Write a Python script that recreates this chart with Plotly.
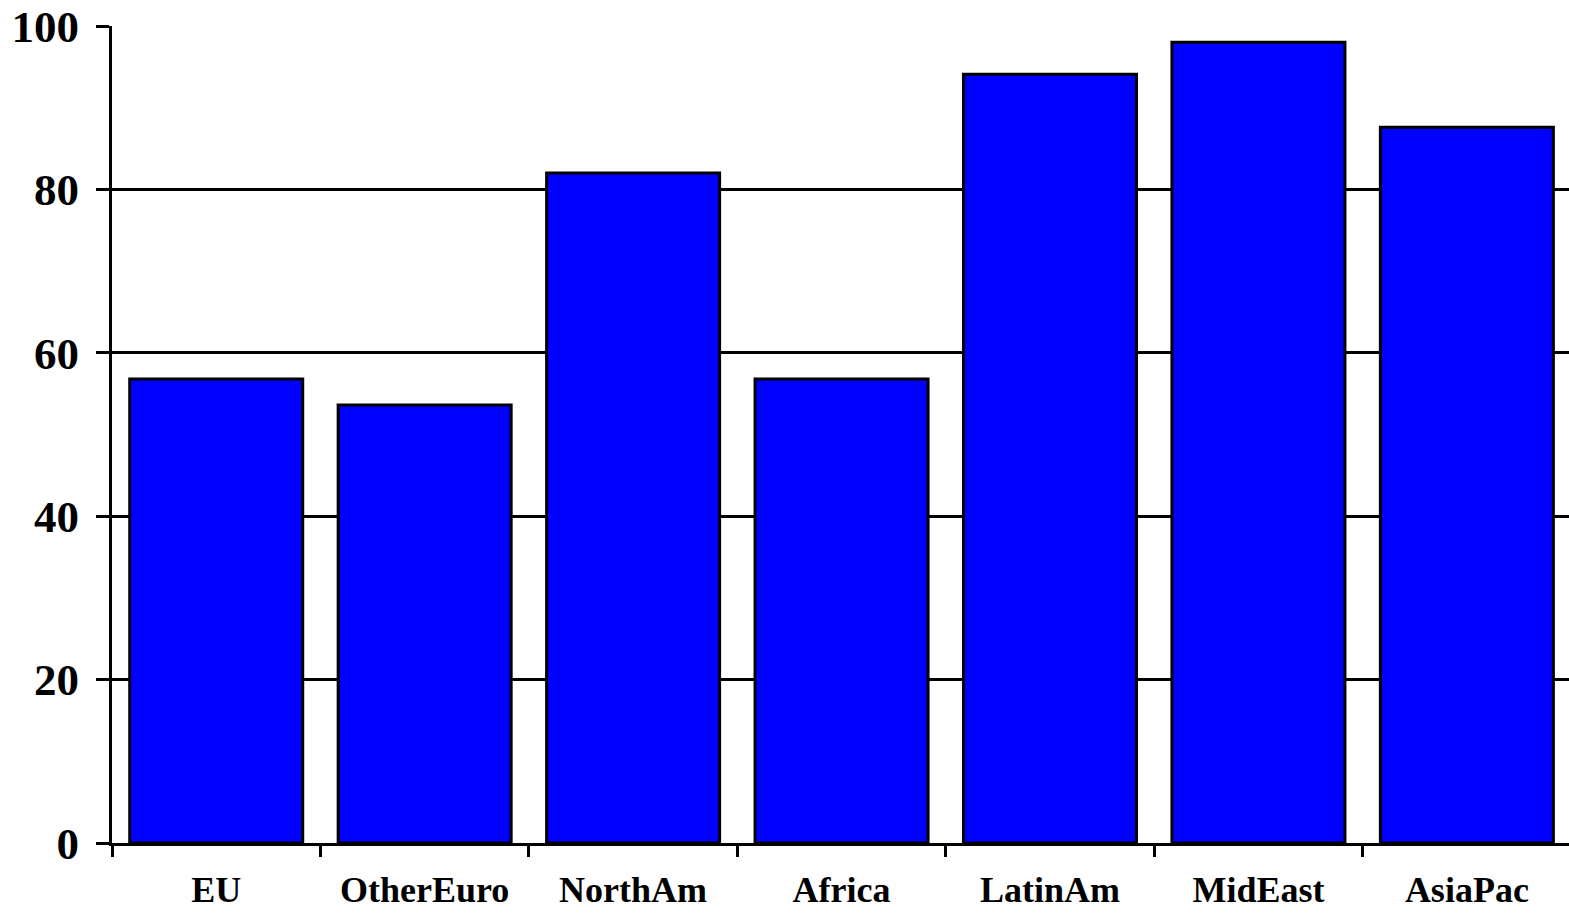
import plotly.graph_objects as go

categories = ["EU", "OtherEuro", "NorthAm", "Africa", "LatinAm", "MidEast", "AsiaPac"]
values = [56.8, 53.6, 82.0, 56.8, 94.1, 98.0, 87.6]
y_ticks = [0, 20, 40, 60, 80, 100]

fig = go.Figure()
fig.add_trace(go.Bar(
    x=categories, y=values,
    marker=dict(color="#0000FF", line=dict(color="black", width=3)),
))

font = "Liberation Serif"
fig.update_layout(
    width=1569, height=913,
    margin=dict(l=112, r=0, t=26, b=70),
    paper_bgcolor="white", plot_bgcolor="white",
    bargap=0.17,
    showlegend=False,
    xaxis=dict(
        range=[-0.5, 6.49],
        automargin=False,
        showline=True, linecolor="black", linewidth=3,
        ticks="outside", tickson="boundaries", ticklen=11, tickwidth=3, tickcolor="black",
        showgrid=False,
        tickfont=dict(family=font, size=36, color="black", weight="bold"),
        ticklabelstandoff=13,
    ),
    yaxis=dict(
        range=[0, 100],
        automargin=False,
        tickvals=y_ticks,
        showline=True, linecolor="black", linewidth=3,
        ticks="outside", ticklen=13, tickwidth=3, tickcolor="black",
        showgrid=True, gridcolor="black", gridwidth=3,
        zeroline=False,
        tickfont=dict(family=font, size=45, color="black", weight="bold"),
        ticklabelstandoff=8,
    ),
)

fig.write_html("out.html")
